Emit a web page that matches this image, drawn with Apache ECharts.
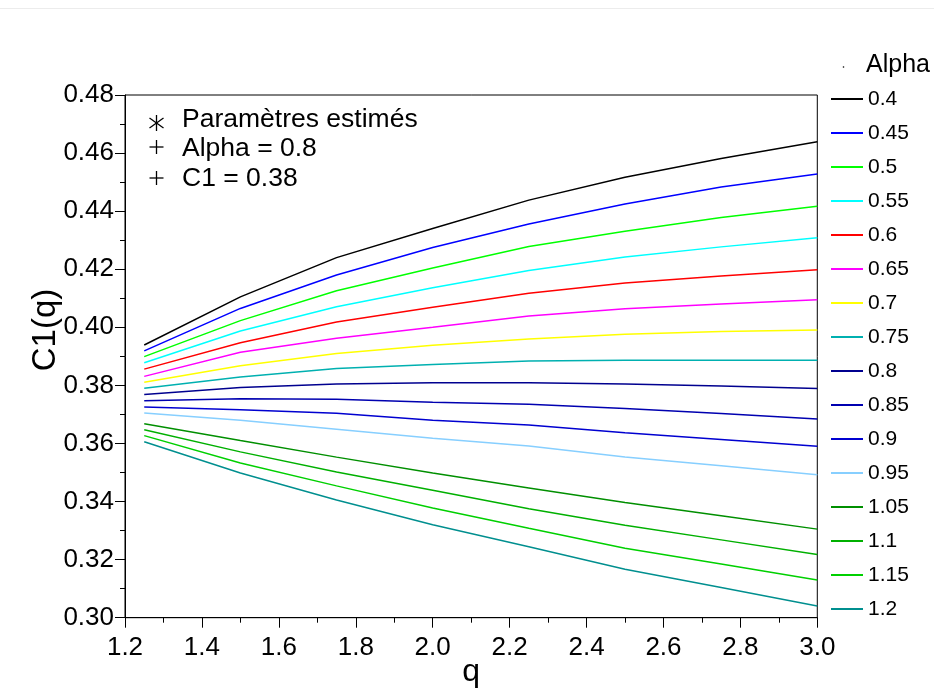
<!DOCTYPE html>
<html>
<head>
<meta charset="utf-8">
<script src="https://cdn.jsdelivr.net/npm/echarts@6/dist/echarts.min.js"></script>
<style>
html,body{margin:0;padding:0;background:#fff;}
#chart{width:934px;height:699px;}
</style>
</head>
<body>
<div id="chart"></div>
<script>
// q values (x axis)
const qValues = [1.25, 1.5, 1.75, 2.0, 2.25, 2.5, 2.75, 3.0];
// legend labels (Alpha)
const alphaLabels = ['0.4','0.45','0.5','0.55','0.6','0.65','0.7','0.75','0.8','0.85','0.9','0.95','1.05','1.1','1.15','1.2'];
// C1(q) values for each alpha
const a040 = [0.3939,0.4105,0.4240,0.4340,0.4438,0.4517,0.4581,0.4639];
const a045 = [0.3919,0.4065,0.4180,0.4275,0.4356,0.4425,0.4483,0.4528];
const a050 = [0.3899,0.4023,0.4126,0.4204,0.4278,0.4331,0.4378,0.4417];
const a055 = [0.3878,0.3987,0.4071,0.4136,0.4196,0.4242,0.4277,0.4308];
const a060 = [0.3856,0.3947,0.4018,0.4069,0.4117,0.4153,0.4177,0.4198];
const a065 = [0.3831,0.3914,0.3962,0.4000,0.4039,0.4064,0.4080,0.4095];
const a070 = [0.3811,0.3868,0.3910,0.3938,0.3960,0.3976,0.3986,0.3991];
const a075 = [0.3790,0.3829,0.3858,0.3872,0.3884,0.3887,0.3887,0.3887];
const a080 = [0.3769,0.3793,0.3805,0.3809,0.3809,0.3805,0.3798,0.3789];
const a085 = [0.3747,0.3754,0.3752,0.3742,0.3735,0.3720,0.3703,0.3684];
const a090 = [0.3726,0.3716,0.3704,0.3680,0.3664,0.3637,0.3614,0.3590];
const a095 = [0.3705,0.3680,0.3649,0.3618,0.3591,0.3553,0.3523,0.3492];
const a105 = [0.3668,0.3610,0.3553,0.3498,0.3447,0.3397,0.3351,0.3305];
const a110 = [0.3647,0.3571,0.3502,0.3439,0.3375,0.3318,0.3268,0.3218];
const a115 = [0.3627,0.3533,0.3454,0.3378,0.3308,0.3239,0.3185,0.3130];
const a120 = [0.3606,0.3498,0.3405,0.3320,0.3244,0.3167,0.3104,0.3040];
const seriesValues = [a040,a045,a050,a055,a060,a065,a070,a075,a080,a085,a090,a095,a105,a110,a115,a120];
// annotation texts
const noteTexts = ['Paramètres estimés', 'Alpha = 0.8', 'C1 = 0.38'];

const colors = ['#000000','#0000ff','#00ff00','#00ffff','#ff0000','#ff00ff','#ffff00','#00b0b0',
                '#00008f','#0000b0','#0000d0','#87cfff','#008f00','#00b000','#00d000','#008f8f'];

const FONT = 'Liberation Sans, Arial, sans-serif';
const GL = 125, GT = 95, GW = 692.3, GH = 522.7;

const chart = echarts.init(document.getElementById('chart'), null, {renderer:'canvas'});

const series = alphaLabels.map((name, i) => ({
  name: name,
  type: 'line',
  data: qValues.map((q, j) => [q, seriesValues[i][j]]),
  symbol: 'none',
  lineStyle: {color: colors[i], width: 1.5},
  itemStyle: {color: colors[i]},
  silent: true,
  animation: false
}));

const plusMark = (cx, cy) => ([
  {type:'line', shape:{x1:cx-7, y1:cy, x2:cx+7, y2:cy}, style:{stroke:'#000', lineWidth:1.3}},
  {type:'line', shape:{x1:cx, y1:cy-7, x2:cx, y2:cy+7}, style:{stroke:'#000', lineWidth:1.3}}
]);
const starMark = (cx, cy) => ([
  {type:'line', shape:{x1:cx, y1:cy-8, x2:cx, y2:cy+8}, style:{stroke:'#000', lineWidth:1.3}},
  {type:'line', shape:{x1:cx-7, y1:cy-5, x2:cx+7, y2:cy+5}, style:{stroke:'#000', lineWidth:1.3}},
  {type:'line', shape:{x1:cx-7, y1:cy+5, x2:cx+7, y2:cy-5}, style:{stroke:'#000', lineWidth:1.3}}
]);

const option = {
  animation: false,
  backgroundColor: '#ffffff',
  color: colors,
  grid: {left: GL, top: GT, width: GW, height: GH, show: true, borderColor: '#000', borderWidth: 1,
         containLabel: false, outerBoundsMode: 'none'},
  xAxis: {
    type: 'value', min: 1.2, max: 3.0, interval: 0.2,
    axisLine: {show: true, onZero: false, lineStyle: {color: '#000', width: 1}},
    axisTick: {show: true, inside: false, length: 10, lineStyle: {color: '#000', width: 1}},
    minorTick: {show: true, splitNumber: 2, length: 5, lineStyle: {color: '#000', width: 1}},
    splitLine: {show: false},
    axisLabel: {fontSize: 26, color: '#000', fontFamily: FONT, margin: 17, formatter: v => v.toFixed(1), showMinLabel: true, showMaxLabel: true},
    name: 'q', nameLocation: 'middle', nameGap: 38, nameMoveOverlap: false,
    nameTextStyle: {fontSize: 32, color: '#000', fontFamily: FONT}
  },
  yAxis: {
    type: 'value', min: 0.30, max: 0.48, interval: 0.02,
    axisLine: {show: true, onZero: false, lineStyle: {color: '#000', width: 1}},
    axisTick: {show: true, inside: false, length: 10, lineStyle: {color: '#000', width: 1}},
    minorTick: {show: true, splitNumber: 2, length: 5, lineStyle: {color: '#000', width: 1}},
    splitLine: {show: false},
    axisLabel: {fontSize: 26, color: '#000', fontFamily: FONT, margin: 11, formatter: v => v.toFixed(2), showMinLabel: true, showMaxLabel: true}
  },
  legend: {
    orient: 'vertical', left: 826, top: 83,
    icon: 'rect', itemWidth: 32, itemHeight: 2, itemGap: 12,
    textStyle: {fontSize: 21, lineHeight: 22, color: '#000', fontFamily: FONT},
    data: alphaLabels,
    selectedMode: false
  },
  graphic: [
    {type:'line', shape:{x1:0, y1:8.5, x2:934, y2:8.5}, style:{stroke:'#ececec', lineWidth:1}},
    {type:'text', x: 46, y: 330, rotation: Math.PI/2,
     style:{text:'C1(q)', fontSize: 33, fill:'#000', fontFamily: FONT, textAlign:'center', textVerticalAlign:'middle'}},
    {type:'text', x: 866, y: 65,
     style:{text:'Alpha', fontSize: 25, fill:'#000', fontFamily: FONT, textAlign:'left', textVerticalAlign:'middle'}},
    {type:'circle', shape:{cx:843.5, cy:67, r:0.8}, style:{fill:'#000'}},
    ...starMark(156.5, 123),
    ...plusMark(156.5, 147),
    ...plusMark(156.5, 178),
    {type:'text', x: 182, y: 120, style:{text: noteTexts[0], fontSize: 26.5, fill:'#000', fontFamily: FONT, textAlign:'left', textVerticalAlign:'middle'}},
    {type:'text', x: 182, y: 149, style:{text: noteTexts[1], fontSize: 26.5, fill:'#000', fontFamily: FONT, textAlign:'left', textVerticalAlign:'middle'}},
    {type:'text', x: 182, y: 179, style:{text: noteTexts[2], fontSize: 26.5, fill:'#000', fontFamily: FONT, textAlign:'left', textVerticalAlign:'middle'}}
  ],
  series: series
};
chart.setOption(option);
</script>
</body>
</html>
